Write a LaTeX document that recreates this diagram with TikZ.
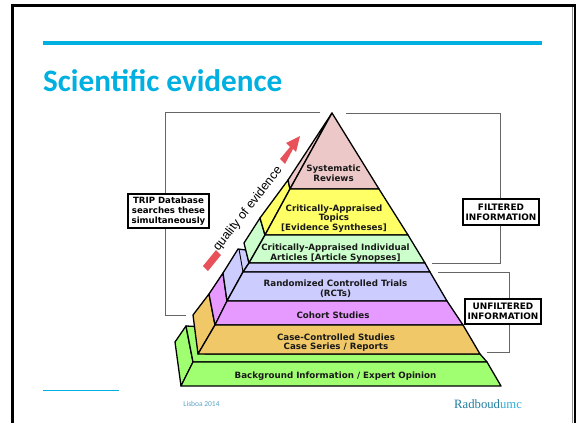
\documentclass[tikz,border=0pt]{standalone}
\usepackage{fontspec}
\setmainfont{Liberation Sans}
\newfontfamily\carlito{Carlito}
\newfontfamily\dejavu{DejaVu Sans}
\newfontfamily\serifrad{Liberation Serif}
\definecolor{accent}{HTML}{00B0E0}
\definecolor{pinkL}{HTML}{ECC8C8}
\definecolor{yellowL}{HTML}{FFFF66}
\definecolor{greenL}{HTML}{CCFFCC}
\definecolor{blueL}{HTML}{CCCCFF}
\definecolor{magL}{HTML}{E699FF}
\definecolor{orangeL}{HTML}{F0C868}
\definecolor{greenB}{HTML}{A0FF70}
\definecolor{arrowred}{HTML}{E8505A}
\definecolor{radA}{HTML}{1F7FA0}
\definecolor{radB}{HTML}{2AB0D8}
\definecolor{lisb}{HTML}{5BA3C4}
\tikzset{
 layer/.style={draw=black,line width=1.3pt,line join=round},
 label/.style={font=\dejavu\bfseries\fontsize{8.7}{9.8}\selectfont,align=center,inner sep=0pt,text=black!90},
 tag/.style={draw=black,line width=1.2pt,fill=white,align=center,inner sep=0pt},
 tagA/.style={tag,font=\dejavu\bfseries\fontsize{8.6}{10}\selectfont},
 tagB/.style={tag,font=\dejavu\bfseries\fontsize{8.9}{10}\selectfont},
 bracket/.style={draw=black!60,line width=1pt},
}
\begin{document}
\begin{tikzpicture}[x=1pt,y=-1pt]
\useasboundingbox (0,0) rectangle (576,423);
\fill[white] (0,0) rectangle (576,423);
% slide frame
\draw[black,line width=3pt] (12.5,423) -- (12.5,5.5) -- (575,5.5) -- (575,423);
\draw[black!45,line width=.8pt] (572.5,7) -- (572.5,423);
\fill[accent] (43,41) rectangle (541.5,45);
\fill[accent] (43,389.5) rectangle (119,390.7);
\node[anchor=base west,inner sep=0pt,text=accent,font=\carlito\bfseries\fontsize{31.2}{34}\selectfont] (title) at (43,91) {Scientific evidence};
% brackets
\coordinate (tl) at (320,112); \coordinate (tr) at (346,113);
\draw[bracket] (tl) -- (165,112) -- (165,315) -- (186,315);
\draw[bracket] (tr) -- (500,113) -- (500,263) -- (432,263);
\draw[bracket] (438,272) -- (509,272) -- (509,352) -- (487,352);
% arrow
\fill[arrowred] (203,266) -- (216,250) -- (221,255) -- (208,271) -- cycle;
\fill[arrowred] (280,159) -- (290,147) -- (286,143) -- (300,136) -- (296,152) -- (293,149) -- (285,164) -- cycle;
% bottom block
\draw[layer,fill=greenB] (186,326) -- (175,342) -- (181,386) -- (193,362) -- cycle;
\draw[layer,fill=greenB] (186,326) -- (205,327) -- (205,354) -- (480,354) -- (487,362) -- (193,362) -- cycle;
\draw[layer,fill=greenB] (193,362) -- (487,362) -- (501,386) -- (181,386) -- cycle;
\node[label] (bg) at (335.5,376) {Background Information / Expert Opinion};
% side faces
\draw[layer,fill=orangeL] (193,315) -- (209,294) -- (215,325) -- (198,354) -- cycle;
\draw[layer,fill=magL] (209,294) -- (223,273) -- (227,301) -- (215,325) -- cycle;
\draw[layer,fill=blueL] (223,273) -- (238,249) -- (246,250) -- (249,263) -- (243,272) -- (227,301) -- cycle;
\draw[layer,line width=.9pt] (239,249) -- (243,272);
\draw[layer,fill=greenL] (244,243) -- (260,218) -- (265,235) -- (249,263) -- cycle;
\draw[layer,fill=yellowL] (260,218) -- (288,180) -- (290,189) -- (265,235) -- cycle;
\draw[layer,fill=pinkL] (288,180) -- (332,113) -- (290,189) -- cycle;
% front faces
\draw[layer,fill=pinkL] (332,113) -- (379,189) -- (290,189) -- cycle;
\draw[layer,fill=yellowL] (290,189) -- (379,189) -- (408,235) -- (265,235) -- cycle;
\draw[layer,fill=greenL] (265,235) -- (408,235) -- (425,263) -- (249,263) -- cycle;
\draw[layer,fill=blueL] (249,263) -- (425,263) -- (430,272) -- (243,272) -- cycle;
\draw[layer,fill=blueL] (243,272) -- (430,272) -- (447,301) -- (227,301) -- cycle;
\draw[layer,fill=magL] (227,301) -- (447,301) -- (463,325) -- (215,325) -- cycle;
\draw[layer,fill=orangeL] (215,325) -- (463,325) -- (480,354) -- (198,354) -- cycle;
\node[label] (a) at (333.5,173.5) {Systematic\\Reviews};
\node[label] (b) at (334,218.5) {Critically-Appraised\\Topics\\{[Evidence Syntheses]}};
\node[label] (c) at (335.5,253) {Critically-Appraised Individual\\Articles [Article Synopses]};
\node[label] (d) at (335.5,289) {Randomized Controlled Trials\\(RCTs)};
\node[label] (e) at (333,315) {Cohort Studies};
\node[label] (f) at (336,342.5) {Case-Controlled Studies\\Case Series / Reports};
% quality text, on the white wedge left of the pyramid
\node[rotate=52,font=\fontsize{12.5}{14}\selectfont,inner sep=0pt] (q) at (248,209) {quality of evidence};
% tags
\node[tagA,minimum width=81pt,minimum height=34pt] (trip) at (168.5,211) {TRIP Database\\searches these\\simultaneously};
\node[tagB,minimum width=76pt,minimum height=26pt] (fi) at (501,212) {FILTERED\\INFORMATION};
\node[tagB,minimum width=76pt,minimum height=25pt] (ui) at (503,311.5) {UNFILTERED\\INFORMATION};
% footer
\node[inner sep=0pt,text=lisb,font=\carlito\fontsize{7.5}{8}\selectfont] (lis) at (201.5,404) {Lisboa 2014};
\node[anchor=base west,inner sep=0pt,font=\serifrad\fontsize{12.7}{14}\selectfont] (rad) at (454,408) {\textcolor{radA}{Radboud}\textcolor{radB}{umc}};
\end{tikzpicture}
\end{document}
